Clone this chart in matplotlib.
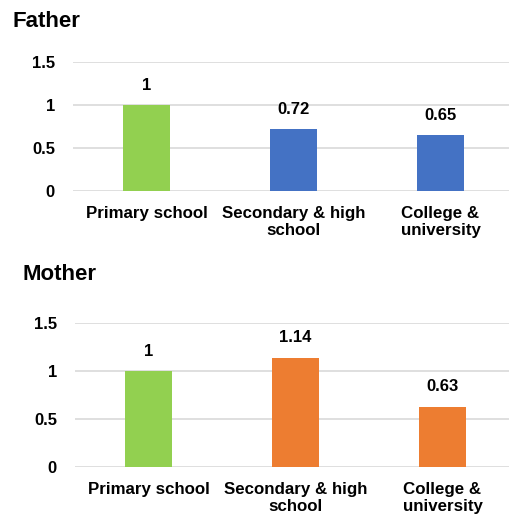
import matplotlib
matplotlib.use("Agg")
import matplotlib.pyplot as plt

plt.rcParams["font.family"] = ["Liberation Sans", "DejaVu Sans"]
plt.rcParams["font.weight"] = "bold"

categories = ["Primary school", "Secondary & high\nschool", "College &\nuniversity"]
father_values = [1, 0.72, 0.65]
mother_values = [1, 1.14, 0.63]
father_labels = ["1", "0.72", "0.65"]
mother_labels = ["1", "1.14", "0.63"]
y_ticks = [0, 0.5, 1, 1.5]
y_tick_labels = ["0", "0.5", "1", "1.5"]

GREEN = "#92D050"
BLUE = "#4472C4"
ORANGE = "#ED7D31"
GRID = "#D9D9D9"


def draw_panel(ax, values, labels, color):
    colors = [GREEN] + [color] * (len(values) - 1)
    x = range(len(values))
    bars = ax.bar(x, values, width=0.32, color=colors, zorder=3)
    for bar, lab in zip(bars, labels):
        ax.annotate(
            lab,
            (bar.get_x() + bar.get_width() / 2, bar.get_height()),
            xytext=(0, 9),
            textcoords="offset points",
            ha="center",
            va="bottom",
            fontsize=12,
            fontweight="bold",
        )
    ax.set_xlim(-0.5, len(values) - 0.5)
    ax.set_ylim(0, 1.5)
    ax.set_yticks(y_ticks)
    ax.set_yticklabels(y_tick_labels, fontsize=12, fontweight="bold")
    ax.set_xticks(list(x))
    ax.set_xticklabels(categories, fontsize=12.2, fontweight="bold", linespacing=1.2)
    ax.tick_params(axis="y", length=0, pad=13)
    ax.tick_params(axis="x", length=0, pad=10.5)
    for s in ax.spines.values():
        s.set_visible(False)
    ax.yaxis.grid(True, color=GRID, linewidth=1.2, zorder=0)
    ax.set_axisbelow(True)


fig = plt.figure(figsize=(5.09, 5.15), dpi=100)

ax1 = fig.add_axes([0.1434, 0.6291, 0.8664, 0.2505])
draw_panel(ax1, father_values, father_labels, BLUE)

ax2 = fig.add_axes([0.1473, 0.0932, 0.8664, 0.2796])
draw_panel(ax2, mother_values, mother_labels, ORANGE)

fig.text(12 / 509, 1 - 27 / 515, "Father", fontsize=16, fontweight="bold", va="baseline")
fig.text(23 / 509, 1 - 280 / 515, "Mother", fontsize=16, fontweight="bold", va="baseline")

fig.savefig("out.png", dpi=100)
